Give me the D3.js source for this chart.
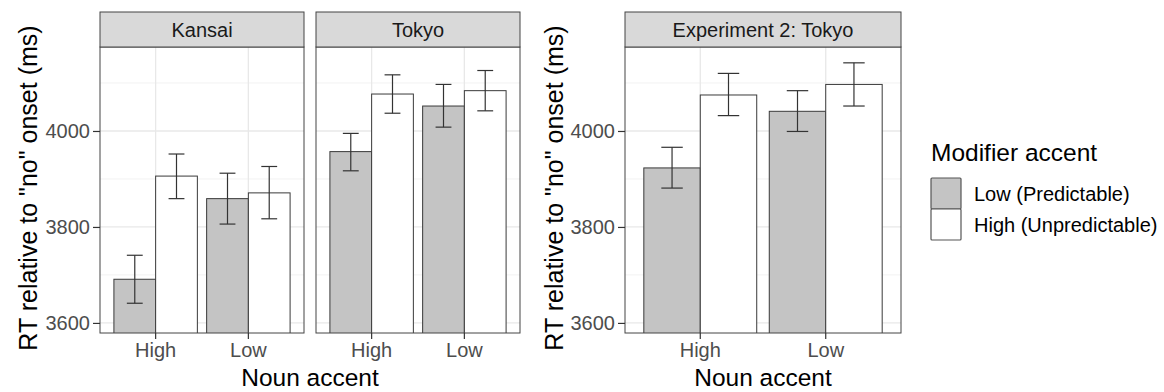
<!DOCTYPE html>
<html><head><meta charset="utf-8">
<script src="https://cdn.jsdelivr.net/npm/d3@7"></script>
<style>
body{margin:0;background:#fff}
text{font-family:"Liberation Sans",Arial,Helvetica,sans-serif}
</style>
</head><body><svg id="c" width="1164" height="392"></svg>
<script>
// ---- data ----
const nounAccents = ["High", "Low"];
const modifierAccents = ["Low (Predictable)", "High (Unpredictable)"];
const panelTitles = ["Kansai", "Tokyo", "Experiment 2: Tokyo"];
const yTicks = [3600, 3800, 4000];
const yMinorTicks = [3700, 3900, 4100];

// values indexed by noun accent [High, Low]
const kansaiPredMean = [3691, 3859], kansaiPredLo = [3641, 3806], kansaiPredHi = [3741, 3912];
const kansaiUnpredMean = [3906, 3871], kansaiUnpredLo = [3859, 3817], kansaiUnpredHi = [3952, 3926];
const tokyoPredMean = [3957, 4052], tokyoPredLo = [3917, 4008], tokyoPredHi = [3995, 4097];
const tokyoUnpredMean = [4077, 4084], tokyoUnpredLo = [4037, 4042], tokyoUnpredHi = [4117, 4126];
const exp2PredMean = [3923, 4041], exp2PredLo = [3881, 3999], exp2PredHi = [3966, 4084];
const exp2UnpredMean = [4075, 4097], exp2UnpredLo = [4032, 4052], exp2UnpredHi = [4120, 4142];

const panelSeries = [
  [[kansaiPredMean, kansaiPredLo, kansaiPredHi], [kansaiUnpredMean, kansaiUnpredLo, kansaiUnpredHi]],
  [[tokyoPredMean, tokyoPredLo, tokyoPredHi], [tokyoUnpredMean, tokyoUnpredLo, tokyoUnpredHi]],
  [[exp2PredMean, exp2PredLo, exp2PredHi], [exp2UnpredMean, exp2UnpredLo, exp2UnpredHi]]
];

// ---- styles / layout ----
const fills = ["#c4c4c4", "#ffffff"];
const panelBoxes = [{x0: 100, x1: 304}, {x0: 316, x1: 520}, {x0: 625, x1: 901}];
const stripTop = 12, panelTop = 47, panelBottom = 333;

const svg = d3.select("#c");
svg.append("rect").attr("width", 1164).attr("height", 392).attr("fill", "#fff");

const y = d3.scaleLinear().domain([3579, 4175]).range([panelBottom, panelTop]);

const defs = svg.append("defs");

panelBoxes.forEach((b, p) => {
  const x0 = d3.scaleBand().domain(nounAccents).range([b.x0, b.x1])
    .paddingInner(0.1).paddingOuter(0.15);
  const x1 = d3.scaleBand().domain(modifierAccents).range([0, x0.bandwidth()]).padding(0);
  const g = svg.append("g");

  // panel background
  g.append("rect").attr("x", b.x0).attr("y", panelTop).attr("width", b.x1 - b.x0)
    .attr("height", panelBottom - panelTop).attr("fill", "#fff");

  // minor grid
  g.selectAll(".minor").data(yMinorTicks).join("line")
    .attr("x1", b.x0).attr("x2", b.x1).attr("y1", d => y(d)).attr("y2", d => y(d))
    .attr("stroke", "#f2f2f2").attr("stroke-width", 1);
  // major grid
  g.selectAll(".majorY").data(yTicks).join("line")
    .attr("x1", b.x0).attr("x2", b.x1).attr("y1", d => y(d)).attr("y2", d => y(d))
    .attr("stroke", "#e8e8e8").attr("stroke-width", 1.3);
  g.selectAll(".majorX").data(nounAccents).join("line")
    .attr("x1", d => x0(d) + x0.bandwidth() / 2).attr("x2", d => x0(d) + x0.bandwidth() / 2)
    .attr("y1", panelTop).attr("y2", panelBottom)
    .attr("stroke", "#e8e8e8").attr("stroke-width", 1.3);

  // clip
  const cid = "clip" + p;
  defs.append("clipPath").attr("id", cid).append("rect")
    .attr("x", b.x0).attr("y", panelTop).attr("width", b.x1 - b.x0).attr("height", panelBottom - panelTop);

  const rows = [];
  nounAccents.forEach((n, i) => {
    modifierAccents.forEach((m, k) => {
      const s = panelSeries[p][k];
      rows.push({noun: n, mod: m, k: k, mean: s[0][i], lo: s[1][i], hi: s[2][i]});
    });
  });

  const cg = g.append("g").attr("clip-path", `url(#${cid})`);
  cg.selectAll(".bar").data(rows).join("rect")
    .attr("x", d => x0(d.noun) + x1(d.mod))
    .attr("width", x1.bandwidth())
    .attr("y", d => y(d.mean))
    .attr("height", d => panelBottom + 5 - y(d.mean))
    .attr("fill", d => fills[d.k])
    .attr("stroke", "#3a3a3a").attr("stroke-width", 1);

  // error bars
  const capW = x1.bandwidth() * 0.38;
  const eg = g.selectAll(".err").data(rows).join("g")
    .attr("stroke", "#333").attr("stroke-width", 1.2).attr("fill", "none");
  eg.append("line")
    .attr("x1", d => x0(d.noun) + x1(d.mod) + x1.bandwidth() / 2)
    .attr("x2", d => x0(d.noun) + x1(d.mod) + x1.bandwidth() / 2)
    .attr("y1", d => y(d.lo)).attr("y2", d => y(d.hi));
  eg.append("line")
    .attr("x1", d => x0(d.noun) + x1(d.mod) + x1.bandwidth() / 2 - capW / 2)
    .attr("x2", d => x0(d.noun) + x1(d.mod) + x1.bandwidth() / 2 + capW / 2)
    .attr("y1", d => y(d.lo)).attr("y2", d => y(d.lo));
  eg.append("line")
    .attr("x1", d => x0(d.noun) + x1(d.mod) + x1.bandwidth() / 2 - capW / 2)
    .attr("x2", d => x0(d.noun) + x1(d.mod) + x1.bandwidth() / 2 + capW / 2)
    .attr("y1", d => y(d.hi)).attr("y2", d => y(d.hi));

  // panel border
  g.append("rect").attr("x", b.x0).attr("y", panelTop).attr("width", b.x1 - b.x0)
    .attr("height", panelBottom - panelTop).attr("fill", "none")
    .attr("stroke", "#444").attr("stroke-width", 1);

  // strip
  g.append("rect").attr("x", b.x0).attr("y", stripTop).attr("width", b.x1 - b.x0)
    .attr("height", panelTop - stripTop).attr("fill", "#d9d9d9")
    .attr("stroke", "#444").attr("stroke-width", 1);
  g.append("text").attr("x", (b.x0 + b.x1) / 2).attr("y", (stripTop + panelTop) / 2)
    .attr("dy", "0.36em").attr("text-anchor", "middle")
    .attr("font-size", 20).attr("fill", "#1a1a1a").text(panelTitles[p]);

  // x axis
  const xa = g.append("g").attr("transform", `translate(0,${panelBottom})`)
    .call(d3.axisBottom(x0).tickSize(6).tickPadding(4));
  xa.select(".domain").remove();
  xa.selectAll(".tick line").attr("stroke", "#333").attr("stroke-width", 1.2);
  xa.selectAll(".tick text").attr("font-size", 20).attr("fill", "#4d4d4d")
    .attr("font-family", "Liberation Sans, Arial, sans-serif");

  // y axis on first panel of each plot
  if (p === 0 || p === 2) {
    const ya = g.append("g").attr("transform", `translate(${b.x0},0)`)
      .call(d3.axisLeft(y).tickValues(yTicks).tickSize(7).tickPadding(3).tickFormat(d3.format("d")));
    ya.select(".domain").remove();
    ya.selectAll(".tick line").attr("stroke", "#333").attr("stroke-width", 1.2);
    ya.selectAll(".tick text").attr("font-size", 20).attr("fill", "#4d4d4d")
      .attr("font-family", "Liberation Sans, Arial, sans-serif");
  }
});

// axis titles
const yTitle = 'RT relative to "no" onset (ms)';
[28, 554].forEach(cx => {
  svg.append("text").attr("transform", `translate(${cx},188) rotate(-90)`)
    .attr("text-anchor", "middle").attr("dy", "0.36em")
    .attr("font-size", 25).attr("fill", "#000").text(yTitle);
});
[310, 763].forEach(cx => {
  svg.append("text").attr("x", cx).attr("y", 386).attr("text-anchor", "middle")
    .attr("font-size", 24.5).attr("fill", "#000").text("Noun accent");
});

// legend
const lg = svg.append("g");
lg.append("text").attr("x", 931).attr("y", 161).attr("font-size", 24.5).attr("fill", "#000")
  .text("Modifier accent");
const legendY = d3.scaleBand().domain(modifierAccents).range([178, 240]);
modifierAccents.forEach((m, k) => {
  lg.append("rect").attr("x", 931).attr("y", legendY(m)).attr("width", 30)
    .attr("height", legendY.bandwidth()).attr("fill", fills[k])
    .attr("stroke", "#555").attr("stroke-width", 1.2).attr("rx", 1);
  lg.append("text").attr("x", 974).attr("y", legendY(m) + legendY.bandwidth() / 2)
    .attr("dy", "0.36em").attr("font-size", 20).attr("fill", "#000").text(m);
});
</script></body></html>
